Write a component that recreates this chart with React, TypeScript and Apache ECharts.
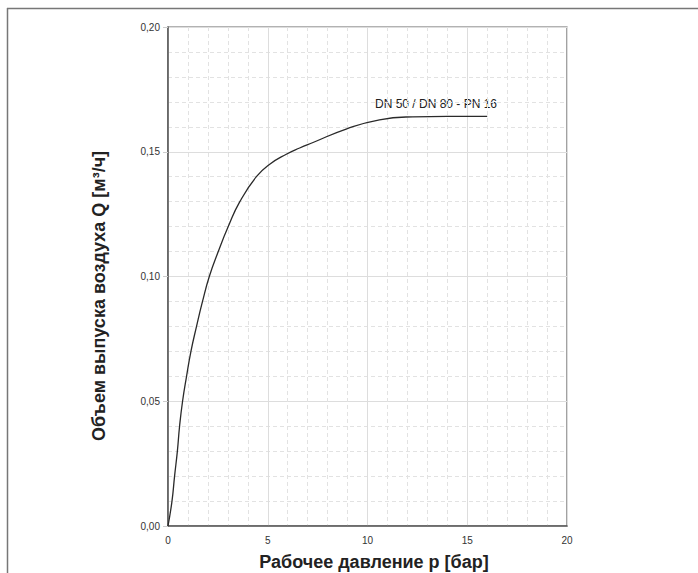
import React, { useEffect, useRef } from "react";
import * as echarts from "echarts";

const pressure = [0, 0.2, 0.33, 0.47, 0.58, 0.73, 0.93, 1.15, 1.43, 1.73, 2.07, 2.52, 3.02, 3.6, 4.43, 5.1, 5.93, 6.6, 7.27, 8.93, 10.6, 12.27, 14, 16];
const airVolume = [0, 0.01, 0.02, 0.03, 0.04, 0.05, 0.06, 0.07, 0.08, 0.09, 0.1, 0.11, 0.12, 0.13, 0.14, 0.145, 0.149, 0.1515, 0.1537, 0.1591, 0.1628, 0.164, 0.1642, 0.1642];
const seriesName = "DN 50 / DN 80 - PN 16";
const xTitle = "Рабочее давление p [бар]";
const yTitle = "Объем выпуска воздуха Q [м³/ч]";

export default function App() {
  const ref = useRef<HTMLDivElement>(null);
  useEffect(() => {
    const chart = echarts.init(ref.current!, null, { renderer: "svg" });
    const font = "Liberation Sans, Arial, Helvetica, sans-serif";
    chart.setOption({
      animation: false,
      backgroundColor: "#fff",
      textStyle: { fontFamily: font },
      grid: {
        left: 168,
        top: 27,
        width: 399,
        height: 499,
        show: true,
        borderColor: "#666",
        borderWidth: 1.2,
        containLabel: false,
      },
      xAxis: {
        type: "value",
        min: 0,
        max: 20,
        interval: 5,
        axisLine: { show: true, onZero: false, lineStyle: { color: "#555", width: 1.5 } },
        axisTick: { show: false },
        minorTick: { show: false, splitNumber: 5 },
        axisLabel: { color: "#333", fontSize: 10, margin: 9, fontFamily: font },
        splitLine: { show: true, lineStyle: { color: "#ddd", width: 1 } },
        minorSplitLine: { show: true, lineStyle: { color: "#e2e2e2", width: 1, type: [4, 3] } },
      },
      yAxis: {
        type: "value",
        min: 0,
        max: 0.2,
        interval: 0.05,
        axisLine: { show: true, onZero: false, lineStyle: { color: "#555", width: 1.5 } },
        axisTick: { show: true, length: 5, lineStyle: { color: "#ccc" } },
        minorTick: { show: false, splitNumber: 5 },
        axisLabel: {
          color: "#333",
          fontSize: 10,
          margin: 8,
          fontFamily: font,
          formatter: (v: number) => v.toFixed(2).replace(".", ","),
        },
        splitLine: { show: true, lineStyle: { color: "#ddd", width: 1 } },
        minorSplitLine: { show: true, lineStyle: { color: "#e2e2e2", width: 1, type: [4, 3] } },
      },
      series: [
        {
          name: seriesName,
          type: "line",
          data: pressure.map((p, i) => [p, airVolume[i]]),
          smooth: 0.5,
          showSymbol: false,
          lineStyle: { color: "#2a2a2a", width: 1.3 },
        },
      ],
      graphic: [
        { type: "line", shape: { x1: 7, y1: 8.5, x2: 698, y2: 8.5 }, style: { stroke: "#777", lineWidth: 1.5 } },
        { type: "line", shape: { x1: 7.5, y1: 8, x2: 7.5, y2: 573 }, style: { stroke: "#777", lineWidth: 1.5 } },
        {
          type: "text",
          x: 375,
          y: 104,
          style: { text: seriesName, font: `12px ${font}`, fill: "#222", verticalAlign: "middle", align: "left" },
        },
        {
          type: "text",
          x: 374,
          y: 562,
          style: { text: xTitle, font: `bold 18px ${font}`, fill: "#222", align: "center", verticalAlign: "middle" },
        },
        {
          type: "text",
          x: 99,
          y: 296,
          rotation: Math.PI / 2,
          style: { text: yTitle, font: `bold 18px ${font}`, fill: "#222", align: "center", verticalAlign: "middle" },
        },
      ],
    });
    return () => chart.dispose();
  }, []);
  return <div ref={ref} style={{ position: "fixed", left: 0, top: 0, width: 698, height: 573 }} />;
}
